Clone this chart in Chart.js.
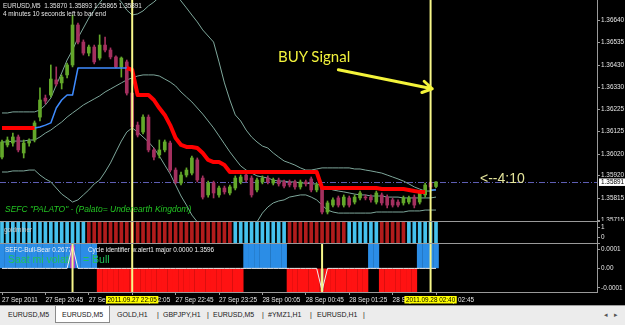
<!DOCTYPE html>
<html>
<head>
<meta charset="utf-8">
<script src="https://cdn.jsdelivr.net/npm/chart.js@4.4.1/dist/chart.umd.min.js"></script>
<style>
*{box-sizing:border-box}
html,body{margin:0;padding:0;width:625px;height:325px;overflow:hidden;background:#000;font-family:'Liberation Sans',Arial,sans-serif}
canvas{position:absolute;left:0;display:block}
.t{position:absolute;white-space:nowrap;line-height:1}
.hl{position:absolute;left:0;width:600px;height:1px;background:#9a9a9a}
#tabs{position:absolute;left:0;top:305px;width:625px;height:20px;background:#ececec;border-top:1px solid #9d9d9d}
#tabs span{position:absolute;top:5px;font-size:7px;color:#202020;line-height:1;white-space:nowrap}
#act{position:absolute;left:55px;top:0;width:55px;height:17px;background:#fff;border:1px solid #8a8a8a;border-top:none}
</style>
</head>
<body>
<canvas id="cMain" width="625" height="221" style="top:0"></canvas>
<div class="hl" style="top:221px"></div>
<canvas id="cGold" width="625" height="21" style="top:222px"></canvas>
<div class="hl" style="top:243px"></div>
<canvas id="cBB" width="625" height="62" style="top:244px"></canvas>

<div class="t" style="left:3px;top:3px;font-size:6.4px;color:#e4e4e4">EURUSD,M5&nbsp;&nbsp;1.35870 1.35893 1.35865 1.35891</div>
<div class="t" style="left:3px;top:10.5px;font-size:6.4px;color:#e4e4e4">4 minutes 10 seconds left to bar end</div>
<div class="t" style="left:278px;top:49px;font-size:15px;color:#f2f23c;font-family:Lato,'Open Sans',sans-serif">BUY Signal</div>
<div class="t" style="left:480px;top:171px;font-size:14px;color:#e4e49a">&lt;--4:10</div>
<div class="t" style="left:5px;top:204.5px;font-size:8.5px;font-style:italic;color:#22c322">SEFC "PALATO" - (Palato= Underearth Kingdom)</div>
<div class="t" style="left:4px;top:227px;font-size:6.4px;color:#c8c8c8">goldminer</div>

<div id="tabs">
  <div id="act"></div>
  <span style="left:8px">EURUSD,M5</span>
  <span style="left:62px">EURUSD,M5</span>
  <span style="left:117px">GOLD,H1</span><span style="left:157px">|</span>
  <span style="left:163px">GBPJPY,H1</span><span style="left:207px">|</span>
  <span style="left:213px">EURUSD,M5</span><span style="left:262px">|</span>
  <span style="left:268px">#YMZ1,H1</span><span style="left:310px">|</span>
  <span style="left:317px">EURUSD,H1</span><span style="left:363px">|</span>
  <span style="left:604px;color:#555">&#9666;</span><span style="left:614px;color:#555">&#9656;</span>
</div>

<script>
// ---------------- DATA ----------------
const opens = [1.36006,1.36062,1.36071,1.36099,1.36025,1.36071,1.36085,1.36191,1.36279,1.36293,
1.36363,1.36349,1.36386,1.36432,1.36617,1.36538,1.36487,1.36515,1.36464,1.36524,
1.36501,1.36469,1.36423,1.36446,1.36302,1.36154,1.36122,1.36191,1.36039,1.36016,
1.36039,1.36071,1.35946,1.35886,1.35923,1.35932,1.35993,1.35909,1.35831,1.35886,
1.35831,1.35863,1.35840,1.35863,1.35891,1.35923,1.35909,1.35854,1.35891,1.35909,
1.35886,1.35900,1.35891,1.35891,1.35891,1.35868,1.35891,1.35905,1.35854,1.35868,
1.35752,1.35784,1.35817,1.35784,1.35817,1.35798,1.35817,1.35821,1.35821,1.35798,
1.35831,1.35821,1.35808,1.35798,1.35794,1.35798,1.35821,1.35798,1.35831,1.35886,
1.35870];
const highs = [1.36085,1.36099,1.36117,1.36108,1.36085,1.36090,1.36173,1.36326,1.36293,1.36432,
1.36423,1.36386,1.36441,1.36663,1.36626,1.36548,1.36524,1.36524,1.36571,1.36561,
1.36511,1.36474,1.36469,1.36455,1.36307,1.36168,1.36201,1.36201,1.36048,1.36085,
1.36085,1.36080,1.35956,1.35937,1.35956,1.36011,1.36002,1.35919,1.35895,1.35895,
1.35872,1.35872,1.35877,1.35919,1.35923,1.35932,1.35919,1.35909,1.35919,1.35919,
1.35909,1.35909,1.35900,1.35900,1.35900,1.35900,1.35900,1.35914,1.35886,1.35877,
1.35803,1.35817,1.35826,1.35831,1.35826,1.35831,1.35849,1.35831,1.35831,1.35849,
1.35840,1.35831,1.35817,1.35808,1.35826,1.35826,1.35831,1.35849,1.35886,1.35891,
1.35893];
const lows = [1.35997,1.36053,1.36057,1.36030,1.36002,1.36057,1.36076,1.36173,1.36252,1.36284,
1.36335,1.36321,1.36372,1.36423,1.36529,1.36478,1.36474,1.36437,1.36455,1.36492,
1.36460,1.36418,1.36376,1.36293,1.36136,1.36099,1.36113,1.36030,1.35993,1.36002,
1.36030,1.35937,1.35882,1.35877,1.35914,1.35923,1.35891,1.35812,1.35821,1.35817,
1.35821,1.35835,1.35831,1.35854,1.35882,1.35891,1.35821,1.35845,1.35882,1.35882,
1.35877,1.35872,1.35863,1.35868,1.35858,1.35858,1.35872,1.35845,1.35845,1.35743,
1.35743,1.35775,1.35775,1.35775,1.35775,1.35789,1.35808,1.35808,1.35798,1.35789,
1.35784,1.35771,1.35775,1.35775,1.35784,1.35789,1.35771,1.35789,1.35821,1.35858,
1.35865];
const closes = [1.36076,1.36085,1.36099,1.36039,1.36071,1.36080,1.36164,1.36270,1.36265,1.36367,
1.36344,1.36376,1.36432,1.36617,1.36538,1.36487,1.36515,1.36446,1.36524,1.36501,
1.36469,1.36423,1.36464,1.36302,1.36145,1.36108,1.36191,1.36039,1.36006,1.36039,
1.36076,1.35946,1.35891,1.35923,1.35946,1.36002,1.35900,1.35821,1.35886,1.35840,
1.35863,1.35845,1.35868,1.35909,1.35914,1.35900,1.35831,1.35900,1.35909,1.35891,
1.35900,1.35882,1.35872,1.35877,1.35868,1.35891,1.35882,1.35854,1.35877,1.35752,
1.35794,1.35808,1.35784,1.35821,1.35784,1.35821,1.35840,1.35817,1.35808,1.35840,
1.35794,1.35784,1.35784,1.35784,1.35817,1.35817,1.35784,1.35840,1.35877,1.35868,
1.35891];

const bbUpper = [1.36210,1.36210,1.36215,1.36215,1.36215,1.36215,1.36215,1.36224,1.36247,1.36279,
1.36339,1.36395,1.36455,1.36501,1.36557,1.36603,1.36649,1.36686,1.36719,1.36751,
1.36760,1.36751,1.36723,1.36686,1.36663,1.36668,1.36682,1.36705,1.36723,1.36746,
1.36770,1.36779,1.36760,1.36728,1.36696,1.36663,1.36631,1.36594,1.36566,1.36538,
1.36446,1.36349,1.36270,1.36201,1.36173,1.36131,1.36099,1.36076,1.36057,1.36048,
1.36025,1.36006,1.35988,1.35979,1.35969,1.35956,1.35946,1.35946,1.35951,1.35956,
1.35956,1.35956,1.35956,1.35956,1.35956,1.35951,1.35951,1.35946,1.35942,1.35937,
1.35932,1.35923,1.35914,1.35905,1.35895,1.35882,1.35868,1.35858,1.35849,1.35849,
1.35858];
const bbMiddle = [1.36076,1.36076,1.36080,1.36080,1.36080,1.36085,1.36085,1.36099,1.36117,1.36131,
1.36150,1.36168,1.36191,1.36210,1.36228,1.36247,1.36261,1.36275,1.36289,1.36307,
1.36321,1.36335,1.36349,1.36363,1.36372,1.36381,1.36386,1.36386,1.36386,1.36381,
1.36367,1.36353,1.36335,1.36307,1.36284,1.36261,1.36233,1.36205,1.36173,1.36141,
1.36104,1.36067,1.36030,1.35997,1.35965,1.35946,1.35932,1.35919,1.35914,1.35909,
1.35900,1.35895,1.35895,1.35891,1.35891,1.35886,1.35886,1.35882,1.35882,1.35872,
1.35863,1.35854,1.35849,1.35845,1.35840,1.35835,1.35831,1.35831,1.35826,1.35826,
1.35826,1.35821,1.35821,1.35821,1.35817,1.35817,1.35817,1.35817,1.35817,1.35817,
1.35821];
const bbLower = [1.35937,1.35937,1.35942,1.35942,1.35942,1.35946,1.35946,1.35923,1.35905,1.35891,
1.35863,1.35835,1.35817,1.35798,1.35808,1.35831,1.35854,1.35882,1.35900,1.35937,
1.35979,1.36030,1.36080,1.36122,1.36141,1.36122,1.36099,1.36076,1.36048,1.36011,
1.35969,1.35928,1.35877,1.35826,1.35784,1.35738,1.35706,1.35669,1.35641,1.35623,
1.35609,1.35604,1.35609,1.35623,1.35641,1.35660,1.35678,1.35706,1.35747,1.35775,
1.35794,1.35803,1.35808,1.35821,1.35826,1.35831,1.35831,1.35821,1.35808,1.35784,
1.35761,1.35752,1.35747,1.35747,1.35747,1.35747,1.35747,1.35747,1.35747,1.35752,
1.35752,1.35752,1.35752,1.35752,1.35752,1.35757,1.35757,1.35757,1.35761,1.35761,
1.35761];

const stopRed = [1.36141,1.36141,1.36141,1.36141,1.36141,1.36141,1.36141,null,null,null,
null,null,null,null,null,null,null,null,null,null,
null,null,null,1.36418,1.36409,1.36293,1.36293,1.36293,1.36270,1.36233,
1.36201,1.36154,1.36094,1.36062,1.36053,1.36053,1.36048,1.36025,1.35993,1.35983,
1.35983,1.35969,1.35937,1.35937,1.35937,1.35937,1.35937,1.35937,1.35937,1.35937,
1.35937,1.35937,1.35937,1.35937,1.35937,1.35937,1.35937,1.35937,1.35937,1.35863,
1.35863,1.35863,1.35863,1.35863,1.35863,1.35863,1.35863,1.35863,1.35863,1.35863,
1.35858,1.35858,1.35858,1.35858,1.35858,1.35854,1.35849,1.35845,1.35845,null,
null];
const stopBlue = [null,null,null,null,null,null,1.36141,1.36145,1.36154,1.36164,
1.36233,1.36270,1.36293,1.36293,1.36418,1.36418,1.36418,1.36418,1.36418,1.36418,
1.36418,1.36418,1.36418,1.36418,null,null,null,null,null,null,
null,null,null,null,null,null,null,null,null,null,
null,null,null,null,null,null,null,null,null,null,
null,null,null,null,null,null,null,null,null,null,
null,null,null,null,null,null,null,null,null,null,
null,null,null,null,null,null,null,null,null,1.35854,
1.35854];

const goldminer = [1,1,1,1,1,1,1,1,1,1,1,1,1,1,1,1,
-1,-1,-1,-1,-1,-1,-1,-1,-1,-1,-1,-1,-1,-1,-1,-1,-1,-1,-1,-1,-1,-1,-1,-1,-1,-1,-1,
1,1,1,1,1,1,1,1,1,1,
-1,-1,-1,-1,-1,-1,-1,-1,-1,-1,-1,
1,1,1,1,1,1,
-1,-1,-1,-1,-1,
1,1,1,1,1,1];

const bullBear = [1.3e-4,1.3e-4,1.3e-4,1.3e-4,1.3e-4,1.3e-4,1.3e-4,1.3e-4,1.3e-4,1.3e-4,1.3e-4,1.3e-4,1.3e-4,1.3e-4,1.3e-4,1.3e-4,1.3e-4,1.3e-4,
-1.3e-4,-1.3e-4,-1.3e-4,-1.3e-4,-1.3e-4,-1.3e-4,-1.3e-4,-1.3e-4,-1.3e-4,-1.3e-4,-1.3e-4,-1.3e-4,-1.3e-4,-1.3e-4,-1.3e-4,-1.3e-4,-1.3e-4,-1.3e-4,-1.3e-4,-1.3e-4,-1.3e-4,-1.3e-4,-1.3e-4,-1.3e-4,-1.3e-4,-1.3e-4,-1.3e-4,
1.3e-4,1.3e-4,1.3e-4,1.3e-4,1.3e-4,1.3e-4,1.3e-4,1.3e-4,
-1.3e-4,-1.3e-4,-1.3e-4,-1.3e-4,-1.3e-4,-1.3e-4,-1.3e-4,-1.3e-4,-1.3e-4,-1.3e-4,-1.3e-4,-1.3e-4,-1.3e-4,-1.3e-4,-1.3e-4,
1.3e-4,1.3e-4,
-1.3e-4,-1.3e-4,-1.3e-4,-1.3e-4,-1.3e-4,-1.3e-4,-1.3e-4,
1.3e-4,1.3e-4,1.3e-4,1.3e-4];

const cycleLine = [0,0,0,0,0,0,0,0,0,0,0,0,0,1.18e-4,0,0,0,0,0,0,
0,0,0,0,0,0,0,0,0,0,0,0,0,0,0,0,0,0,0,0,
0,0,0,0,0,0,0,0,0,0,0,0,0,0,0,0,0,0,0,-1.15e-4,
0,0,0,0,0,0,0,0,0,0,0,0,0,0,0,0,0,0,0,0,
0];

const priceTicks = [1.36640,1.36535,1.36430,1.36330,1.36225,1.36125,1.36020,1.35920,1.35815,1.35715];
const goldTicks = [1,0];
const goldTickLabels = ['1','0'];
const bbTicks = [0.0001,0,-0.0001];
const bbTickLabels = ['0.0001','0.00','-0.0001'];
const timeTickIdx = [0,8,16,24,32,40,48,56,64,72,80];
const timeTickLabels = ['27 Sep 2011','27 Sep 20:45','27 Sep 21:25','27 Sep 22:05','27 Sep 22:45','27 Sep 23:25','28 Sep 00:05','28 Sep 00:45','28 Sep 01:25','28 Sep 02:05','28 Sep 02:45'];
const signalBars = [24,79];
const signalLabels = ['2011.09.27 22:05','2011.09.28 02:40'];
const cycleBars = [13,59];
const buyArrow = {x0:62, y0:1.36410, x1:79.3, y1:1.36322};

// ---------------- LAYOUT / STYLE ----------------
const N = closes.length;
const FONT = "'Liberation Sans', Arial, sans-serif";
const AXIS_W = 28;
const X_MIN = -0.369, X_MAX = 109.677;
const P_MIN = 1.357104, P_MAX = 1.367325;
const GM_MIN = -0.53, GM_MAX = 1.57;
const BB_MIN = -0.000122, BB_MAX = 0.000126;
const BULL = '#63a82a', BEAR = '#a4305f', BAND = '#7ea79b', VLINE = '#f7f78a';
const idx = Array.from({length:N}, (_, i) => i);

function rightAxis(min, max, tickVals, labels){
  return {
    position:'right', min, max,
    afterBuildTicks: s => { s.ticks = tickVals.map(v => ({value:v})); },
    afterFit: s => { s.width = AXIS_W; s.paddingTop = 0; s.paddingBottom = 0; },
    grid:{drawOnChartArea:false, drawTicks:true, tickLength:3, color:'#9a9a9a'},
    border:{display:true, color:'#9a9a9a'},
    ticks:{color:'#e6e6e6', font:{family:FONT, size:6.4}, padding:1, autoSkip:false,
      callback:(v, i) => labels ? labels[i] : Number(v).toFixed(5)}
  };
}
const hiddenX = {type:'linear', min:X_MIN, max:X_MAX, display:false, offset:false, grid:{offset:false}};
const base = {
  responsive:false, maintainAspectRatio:false, devicePixelRatio:1, animation:false, events:[],
  layout:{padding:0},
  plugins:{legend:{display:false}, tooltip:{enabled:false}}
};

function vlines(chart, bars, top, bottom){
  const {ctx, scales:{x}} = chart;
  ctx.save(); ctx.strokeStyle = VLINE; ctx.lineWidth = 2;
  bars.forEach(b => { const px = x.getPixelForValue(b); ctx.beginPath(); ctx.moveTo(px, top); ctx.lineTo(px, bottom); ctx.stroke(); });
  ctx.restore();
}

// ---------------- MAIN ----------------
const mainDecor = {
  id:'mainDecor',
  beforeDatasetsDraw(chart){
    const {ctx, chartArea:a, scales:{y}} = chart;
    const yy = Math.round(y.getPixelForValue(closes[N-1])) + 0.5;
    ctx.save(); ctx.strokeStyle = '#5e5eb4'; ctx.lineWidth = 1; ctx.setLineDash([6,2,1,2]);
    ctx.beginPath(); ctx.moveTo(a.left, yy); ctx.lineTo(a.right, yy); ctx.stroke(); ctx.restore();
  },
  afterDatasetsDraw(chart){
    const {ctx, chartArea:a, scales:{x, y}} = chart;
    vlines(chart, signalBars, a.top, a.bottom + 2);
    const x0 = x.getPixelForValue(buyArrow.x0), y0 = y.getPixelForValue(buyArrow.y0);
    const x1 = x.getPixelForValue(buyArrow.x1), y1 = y.getPixelForValue(buyArrow.y1);
    const ang = Math.atan2(y1 - y0, x1 - x0);
    ctx.save(); ctx.strokeStyle = '#f4f43a'; ctx.lineWidth = 3; ctx.lineCap = 'round';
    ctx.beginPath(); ctx.moveTo(x0, y0); ctx.lineTo(x1, y1);
    [0.55, -0.55].forEach(d => { ctx.moveTo(x1, y1); ctx.lineTo(x1 - 11*Math.cos(ang + d), y1 - 11*Math.sin(ang + d)); });
    ctx.stroke(); ctx.restore();
  },
  afterDraw(chart){
    const {ctx, scales:{y}} = chart;
    const yy = y.getPixelForValue(closes[N-1]);
    ctx.save(); ctx.fillStyle = '#ffffff'; ctx.fillRect(y.left + 2, yy - 3.5, 28, 7.5);
    ctx.fillStyle = '#000'; ctx.font = '6.4px ' + FONT; ctx.textBaseline = 'middle';
    ctx.fillText(closes[N-1].toFixed(5), y.left + 4, yy + 0.3); ctx.restore();
  }
};

const candleColor = c => closes[c.dataIndex] >= opens[c.dataIndex] ? BULL : BEAR;
const lineDs = (arr, color, w, order) => ({type:'line', data: idx.map(i => ({x:i, y:arr[i]})), borderColor:color, borderWidth:w,
  pointRadius:0, spanGaps:false, order, clip:0, borderJoinStyle:'round'});

new Chart(document.getElementById('cMain'), {
  type:'bar',
  data:{datasets:[
    lineDs(stopRed, '#ff0000', 4, 0),
    lineDs(stopBlue, '#3f8cff', 1.5, 1),
    {type:'bar', data: idx.map(i => ({x:i, y:[opens[i], closes[i]]})), backgroundColor:candleColor, barThickness:3, grouped:false, minBarLength:1, order:2},
    {type:'bar', data: idx.map(i => ({x:i, y:[lows[i], highs[i]]})), backgroundColor:candleColor, barThickness:1, grouped:false, order:3},
    lineDs(bbUpper, BAND, 1, 4),
    lineDs(bbMiddle, BAND, 1, 4),
    lineDs(bbLower, BAND, 1, 4)
  ]},
  options:Object.assign({}, base, {scales:{x:hiddenX, y:rightAxis(P_MIN, P_MAX, priceTicks, null)}}),
  plugins:[mainDecor]
});

// ---------------- GOLDMINER ----------------
new Chart(document.getElementById('cGold'), {
  type:'bar',
  data:{datasets:[
    {data: idx.map(i => ({x:i, y:[GM_MIN, GM_MAX]})), backgroundColor: c => goldminer[c.dataIndex] > 0 ? '#45c2ee' : '#b21c1c', barThickness:3, grouped:false}
  ]},
  options:Object.assign({}, base, {scales:{x:hiddenX, y:rightAxis(GM_MIN, GM_MAX, goldTicks, goldTickLabels)}}),
  plugins:[{id:'gv', afterDatasetsDraw(chart){ vlines(chart, signalBars, 0, chart.height); }}]
});

// ---------------- BULL / BEAR ----------------
const bbDecor = {
  id:'bbDecor',
  afterDatasetDraw(chart, args){
    if (args.index !== 3) return;
    const {ctx, chartArea:a} = chart;
    ctx.save(); ctx.textBaseline = 'middle';
    ctx.fillStyle = '#f0f0f0'; ctx.font = '6.4px ' + FONT;
    ctx.fillText('SEFC-Bull-Bear 0.26777', a.left + 5, a.top + 6);
    ctx.fillText('Cycle identifier w.alert1 major 0.0000 1.3596', a.left + 88, a.top + 6);
    ctx.fillStyle = '#1fc25a'; ctx.font = '10.5px ' + FONT;
    ctx.fillText('Saat mi volatil', a.left + 8, a.top + 16);
    ctx.fillText('= Bull', a.left + 83, a.top + 16);
    ctx.restore();
  },
  afterDatasetsDraw(chart){
    const {chartArea:a} = chart;
    vlines(chart, cycleBars, a.top, a.bottom);
    vlines(chart, signalBars, a.top - 1, a.bottom);
  },
  afterDraw(chart){
    const {ctx, scales:{x}} = chart;
    ctx.save(); ctx.font = '6.4px ' + FONT; ctx.textBaseline = 'middle'; ctx.textAlign = 'center';
    signalBars.forEach((b, k) => {
      const px = x.getPixelForValue(b); const w = ctx.measureText(signalLabels[k]).width + 3;
      ctx.fillStyle = '#ffff00'; ctx.fillRect(px - w/2, x.top + 4, w, 7.5);
      ctx.fillStyle = '#000'; ctx.fillText(signalLabels[k], px, x.top + 8);
    });
    ctx.restore();
  }
};

new Chart(document.getElementById('cBB'), {
  type:'bar',
  data:{datasets:[
    {type:'line', data: idx.map(i => ({x:i, y:cycleLine[i]})), borderColor:'#eeeeee', borderWidth:1, pointRadius:0, order:0, clip:0},
    {type:'bar', data: idx.filter(i => cycleLine[i] > 0).map(i => ({x:i, y:cycleLine[i]})), backgroundColor:'#b22fd2', barThickness:4, grouped:false, order:1},
    {type:'bar', data: idx.filter(i => cycleLine[i] < 0).map(i => ({x:i, y:cycleLine[i]})), backgroundColor:'#2fd0d0', barThickness:2, grouped:false, order:1},
    {type:'bar', data: idx.map(i => ({x:i, y:bullBear[i]})), backgroundColor: c => bullBear[c.dataIndex] > 0 ? '#2b8de6' : '#ff1212', barThickness:5, grouped:false, order:3}
  ]},
  options:Object.assign({}, base, {scales:{
    x:{type:'linear', min:X_MIN, max:X_MAX, position:'bottom', offset:false,
      afterBuildTicks: s => { s.ticks = timeTickIdx.map(v => ({value:v})); },
      afterFit: s => { s.height = 14; s.paddingLeft = 0; s.paddingRight = 0; },
      grid:{drawOnChartArea:false, drawTicks:true, tickLength:3, color:'#9a9a9a', offset:false},
      border:{display:true, color:'#9a9a9a'},
      ticks:{color:'#e6e6e6', font:{family:FONT, size:6.4}, padding:1, align:'start', maxRotation:0, minRotation:0, autoSkip:false,
        callback:(v, i) => timeTickLabels[i]}
    },
    y:rightAxis(BB_MIN, BB_MAX, bbTicks, bbTickLabels)
  }}),
  plugins:[bbDecor]
});
</script>
</body>
</html>
